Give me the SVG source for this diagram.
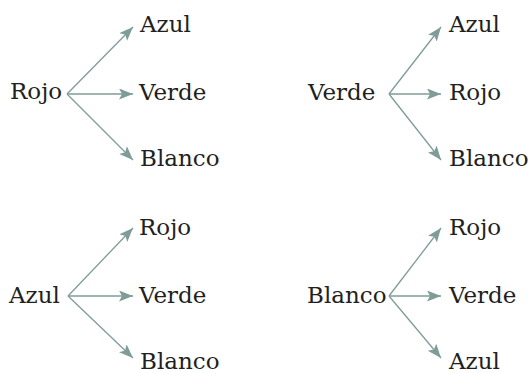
<svg xmlns="http://www.w3.org/2000/svg" width="528" height="373" viewBox="0 0 528 373">
<defs>
<style>
.t{font-family:'DejaVu Serif','Liberation Serif',serif;font-size:23px;fill:#231f20}
.c line{stroke:#7f9c98;stroke-width:1.3;marker-end:url(#ah)}
</style>
<marker id="ah" markerUnits="userSpaceOnUse" markerWidth="16" markerHeight="12" refX="14" refY="5.5" orient="auto">
<path d="M0,0 L14,5.5 L0,11 L3,5.5 z" fill="#7f9c98"/>
</marker>
</defs>
<g class="t">
<g id="n1"><text x="10" y="99">Rojo</text></g>
<g id="n1a"><text x="140" y="32">Azul</text></g>
<g id="n1b"><text x="139" y="100">Verde</text></g>
<g id="n1c"><text x="140" y="166">Blanco</text></g>
<g id="n2"><text x="308" y="100">Verde</text></g>
<g id="n2a"><text x="449" y="32">Azul</text></g>
<g id="n2b"><text x="449" y="100">Rojo</text></g>
<g id="n2c"><text x="449" y="166">Blanco</text></g>
<g id="n3"><text x="9" y="303">Azul</text></g>
<g id="n3a"><text x="139" y="235">Rojo</text></g>
<g id="n3b"><text x="139" y="303">Verde</text></g>
<g id="n3c"><text x="140" y="369">Blanco</text></g>
<g id="n4"><text x="307" y="303">Blanco</text></g>
<g id="n4a"><text x="449" y="235">Rojo</text></g>
<g id="n4b"><text x="449" y="303">Verde</text></g>
<g id="n4c"><text x="449" y="369">Azul</text></g>
</g>
<g class="c" id="connectors">
<line x1="67" y1="94" x2="133" y2="27"/>
<line x1="67" y1="94" x2="133" y2="94"/>
<line x1="67" y1="94" x2="133" y2="160"/>
<line x1="389" y1="94" x2="441" y2="27"/>
<line x1="389" y1="94" x2="441" y2="94"/>
<line x1="389" y1="94" x2="441" y2="160"/>
<line x1="68" y1="296" x2="133" y2="228"/>
<line x1="68" y1="296" x2="133" y2="296"/>
<line x1="68" y1="296" x2="133" y2="358"/>
<line x1="389" y1="296" x2="441" y2="228"/>
<line x1="389" y1="296" x2="441" y2="296"/>
<line x1="389" y1="296" x2="441" y2="358"/>
</g>
</svg>
